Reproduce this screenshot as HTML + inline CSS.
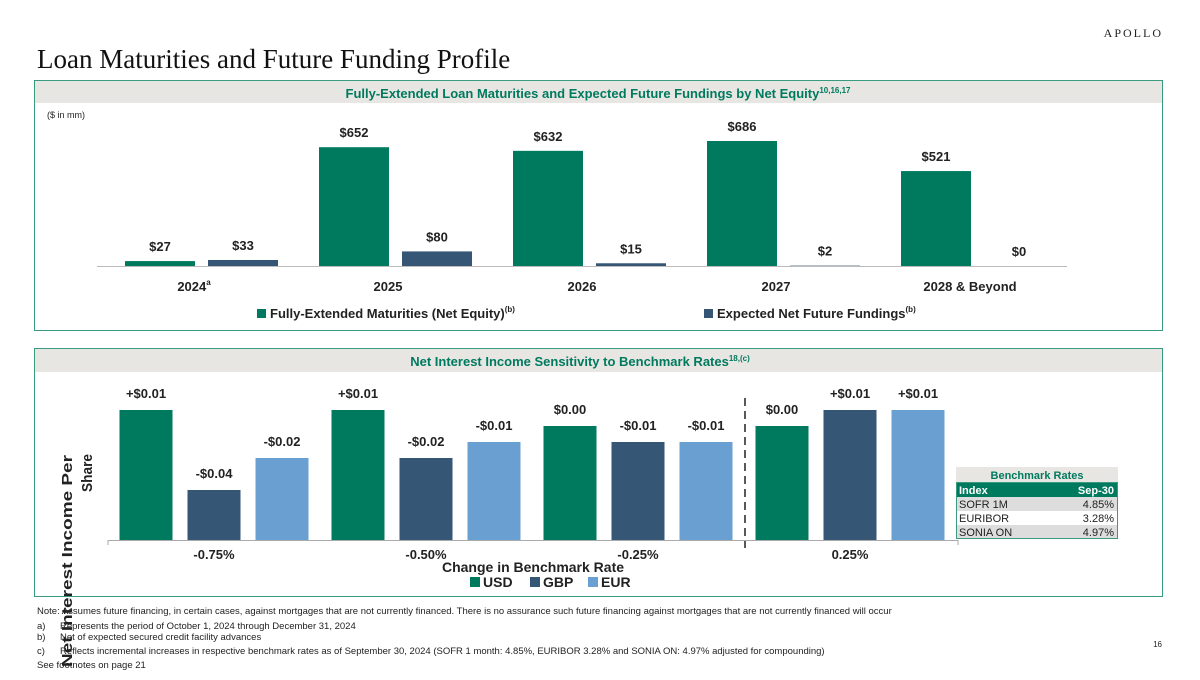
<!DOCTYPE html>
<html><head><meta charset="utf-8"><style>
body{margin:0;width:1200px;height:675px;overflow:hidden;background:#fff;font-family:"Liberation Sans",sans-serif}
svg text{font-family:"Liberation Sans",sans-serif}
</style></head><body>
<svg id="s" width="1200" height="675" xmlns="http://www.w3.org/2000/svg">
<text x="1163" y="37" text-anchor="end" font-size="12" letter-spacing="2" fill="#222" style="font-family:'Liberation Serif',serif">APOLLO</text>
<text x="37" y="68" style="font-family:'Liberation Serif',serif" font-size="27" fill="#111">Loan Maturities and Future Funding Profile</text>
<rect x="34.5" y="80.5" width="1128" height="250" fill="#fff" stroke="#3a9a80"/>
<rect x="35" y="81" width="1127" height="22" fill="#e8e6e3"/>
<text x="598" y="98" text-anchor="middle" font-size="13" font-weight="bold" fill="#007a5e">Fully-Extended Loan Maturities and Expected Future Fundings by Net Equity<tspan font-size="8" dy="-5">10,16,17</tspan></text>
<text x="47" y="118" font-size="9" fill="#222">($ in mm)</text>
<g id="topg"></g>
<rect x="34.5" y="348.5" width="1128" height="248" fill="none" stroke="#3a9a80"/>
<rect x="35" y="349" width="1127" height="23" fill="#e8e6e3"/>
<text x="580" y="366" text-anchor="middle" font-size="13" font-weight="bold" fill="#007a5e">Net Interest Income Sensitivity to Benchmark Rates<tspan font-size="8" dy="-5">18,(c)</tspan></text>
<g id="botg"></g>
<text transform="translate(72,667) rotate(-90)" font-size="15" font-weight="bold" fill="#222" textLength="212" lengthAdjust="spacingAndGlyphs">Net Interest Income Per</text>
<text transform="translate(92,492) rotate(-90)" font-size="15" font-weight="bold" fill="#222" textLength="38" lengthAdjust="spacingAndGlyphs">Share</text>
<g font-size="11">
<rect x="956" y="467" width="162" height="15" fill="#e8e6e3"/>
<text x="1037" y="479" text-anchor="middle" font-weight="bold" fill="#007a5e">Benchmark Rates</text>
<rect x="956" y="482" width="162" height="15" fill="#007a5e"/>
<text x="959" y="494" font-weight="bold" fill="#fff">Index</text><text x="1114" y="494" text-anchor="end" font-weight="bold" fill="#fff">Sep-30</text>
<rect x="956" y="497" width="162" height="14" fill="#ddd"/><text x="959" y="508" fill="#222">SOFR 1M</text><text x="1114" y="508" text-anchor="end" fill="#222">4.85%</text>
<text x="959" y="522" fill="#222">EURIBOR</text><text x="1114" y="522" text-anchor="end" fill="#222">3.28%</text>
<rect x="956" y="525" width="162" height="14" fill="#ddd"/><text x="959" y="536" fill="#222">SONIA ON</text><text x="1114" y="536" text-anchor="end" fill="#222">4.97%</text>
<rect x="956.5" y="482.5" width="161" height="56" fill="none" stroke="#3a9a80"/>
</g>
<g font-size="9.5" fill="#222">
<text x="37" y="614">Note: Assumes future financing, in certain cases, against mortgages that are not currently financed. There is no assurance such future financing against mortgages that are not currently financed will occur</text>
<text x="37" y="629">a)</text><text x="60" y="629">Represents the period of October 1, 2024 through December 31, 2024</text>
<text x="37" y="640">b)</text><text x="60" y="640">Net of expected secured credit facility advances</text>
<text x="37" y="654">c)</text><text x="60" y="654">Reflects incremental increases in respective benchmark rates as of September 30, 2024 (SOFR 1 month: 4.85%, EURIBOR 3.28% and SONIA ON: 4.97% adjusted for compounding)</text>
<text x="37" y="668">See footnotes on page 21</text>
<text x="1162" y="647" text-anchor="end" font-size="8">16</text>
</g>
</svg>
<script>
const topCats=["2024","2025","2026","2027","2028 & Beyond"];
const maturities=[27,652,632,686,521];
const fundings=[33,80,15,2,0];
const botCats=["-0.75%","-0.50%","-0.25%","0.25%"];
const usd=[0.01,0.01,0.00,0.00];
const gbp=[-0.04,-0.02,-0.01,0.01];
const eur=[-0.02,-0.01,-0.01,0.01];
const NS="http://www.w3.org/2000/svg";
function mk(p,t,a,txt){const e=document.createElementNS(NS,t);for(const k in a)e.setAttribute(k,a[k]);if(txt!==undefined)e.textContent=txt;p.appendChild(e);return e;}
const G="#007a5e",N="#355675",L="#6a9fd2";
const tg=document.getElementById('topg');
const tBase=266,tK=125/686;
const tx=i=>194+i*194;
const ty=v=>tBase-v*tK;
topCats.forEach((c,i)=>{
  const x=tx(i);
  let r=mk(tg,'rect',{x:x-69,y:ty(maturities[i]),width:70,height:tBase-ty(maturities[i]),fill:G});
  
  
  let t=mk(tg,'text',{x:x-34,y:ty(maturities[i])-10,'text-anchor':'middle','font-size':13,'font-weight':'bold',fill:'#222'},'$'+maturities[i]);
  
  
  r=mk(tg,'rect',{x:x+14,y:ty(fundings[i]),width:70,height:Math.max(0,tBase-ty(fundings[i])),fill:N});
  
  
  t=mk(tg,'text',{x:x+49,y:Math.min(ty(fundings[i])-10,258),'text-anchor':'middle','font-size':13,'font-weight':'bold',fill:'#222'},'$'+fundings[i]);
  
  
  t=mk(tg,'text',{x:x,y:291,'text-anchor':'middle','font-size':13,'font-weight':'bold',fill:'#222'},c);
  if(i==0)mk(t,'tspan',{'font-size':8,dy:-6},'a');
  
  
});
let ax=mk(tg,'line',{x1:97,x2:1067,y1:266.5,y2:266.5,stroke:'#bbb'});


let lg=mk(tg,'g',{});


mk(lg,'rect',{x:257,y:309,width:9,height:9,fill:G});
let lt=mk(lg,'text',{x:270,y:318,'font-size':13,'font-weight':'bold',fill:'#222'},'Fully-Extended Maturities (Net Equity)');mk(lt,'tspan',{'font-size':8,dy:-6},'(b)');
mk(lg,'rect',{x:704,y:309,width:9,height:9,fill:N});
lt=mk(lg,'text',{x:717,y:318,'font-size':13,'font-weight':'bold',fill:'#222'},'Expected Net Future Fundings');mk(lt,'tspan',{'font-size':8,dy:-6},'(b)');
const bg=document.getElementById('botg');
const bBase=540;
const by=v=>426-v*1600;
const bx=i=>214+i*212;
const fmt=v=>v>0?'+$'+v.toFixed(2):v<0?'-$'+Math.abs(v).toFixed(2):'$0.00';
const series=[[usd,G,'usd'],[gbp,N,'gbp'],[eur,L,'eur']];
botCats.forEach((c,i)=>{
  series.forEach(([arr,col,nm],j)=>{
    const cx=bx(i)+(j-1)*68;
    const y=by(arr[i]);
    const r=mk(bg,'rect',{x:cx-26.5,y:y,width:53,height:Math.max(0,bBase-y),fill:col});
    
    
    const t=mk(bg,'text',{x:cx,y:y-12,'text-anchor':'middle','font-size':13,'font-weight':'bold',fill:'#222'},fmt(arr[i]));
    
    
  });
  const t=mk(bg,'text',{x:bx(i),y:559,'text-anchor':'middle','font-size':13,'font-weight':'bold',fill:'#222'},c);
  
  
});
ax=mk(bg,'path',{d:'M108 545V540.5H958V545',stroke:'#aaa',fill:'none'});


const dl=mk(bg,'line',{x1:745,x2:745,y1:398,y2:548,stroke:'#222','stroke-width':1.5,'stroke-dasharray':'8,5'});


const xt=mk(bg,'text',{x:533,y:572,'text-anchor':'middle','font-size':14,'font-weight':'bold',fill:'#222'},'Change in Benchmark Rate');


lg=mk(bg,'g',{'font-size':14,'font-weight':'bold',fill:'#222'});


[['USD',G,470],['GBP',N,530],['EUR',L,588]].forEach(([n,c,x])=>{mk(lg,'rect',{x:x,y:577,width:10,height:10,fill:c});mk(lg,'text',{x:x+13,y:587},n);});
</script>
</body></html>
